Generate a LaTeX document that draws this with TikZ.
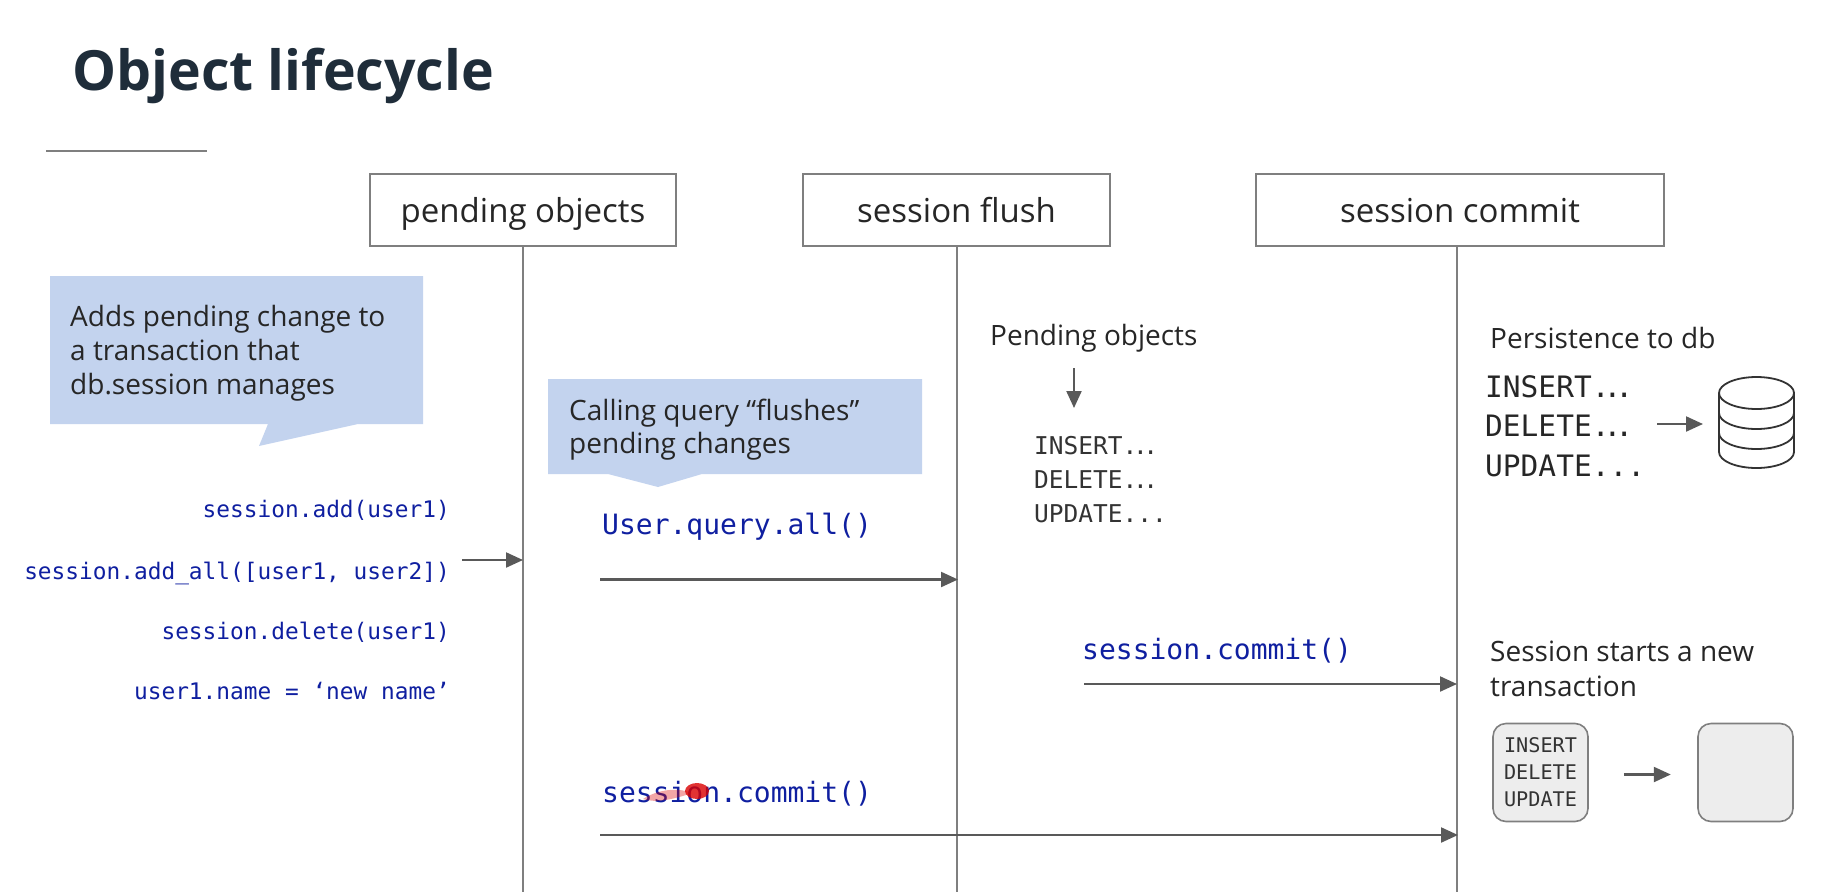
\documentclass[tikz,border=0pt]{standalone}
\usepackage{fontspec}
\setmainfont{Open Sans}
\newfontfamily\codefont{DejaVu Sans Mono}
\newcommand{\fs}[2]{\fontsize{#1}{#2}\selectfont}
\newcommand{\tightdots}[1]{.\kern-#1pt.\kern-#1pt.\kern-#1pt}
\usetikzlibrary{arrows.meta,positioning}
\definecolor{inkdark}{HTML}{1F2D3A}
\definecolor{linegrey}{HTML}{7F7F7F}
\definecolor{arrowgrey}{HTML}{595959}
\definecolor{calloutblue}{HTML}{C3D3EE}
\definecolor{codeblue}{HTML}{0F1FA0}
\definecolor{boxgrey}{HTML}{EDEDED}
\tikzset{
  lifebox/.style={draw=linegrey,line width=1.8pt,fill=white,minimum height=72pt,inner sep=0pt,font=\fs{33}{40},text=black!85,text height=29pt,text depth=5pt},
  lifeline/.style={draw=linegrey,line width=1.6pt},
  flow/.style={draw=arrowgrey,line width=2.2pt,-{Triangle[length=17pt,width=15pt]}},
  callout/.style={fill=calloutblue,draw=none},
  label/.style={anchor=base west,inner sep=0pt,text=black!85,font=\fs{28}{34}},
  blocklabel/.style={anchor=west,inner sep=0pt,text=black!85,align=left},
  codesmall/.style={anchor=base east,inner sep=0pt,text=codeblue,font=\codefont\fs{22.8}{28}},
  codebig/.style={anchor=base west,inner sep=0pt,text=codeblue,font=\codefont\fs{28}{33}},
  sqlsmall/.style={anchor=west,inner sep=0pt,text=black!80,align=left,font=\codefont\fs{24.5}{34}},
  sqlbig/.style={anchor=west,inner sep=0pt,text=black!85,align=left,font=\codefont\fs{29.5}{39.5}},
  trbox/.style={draw=linegrey,line width=1.6pt,fill=boxgrey,rounded corners=13pt,minimum width=95pt,minimum height=98pt,inner sep=0pt},
  dbline/.style={draw=black!80,line width=1.8pt},
}
\begin{document}
\begin{tikzpicture}[x=1pt,y=-1pt]
\useasboundingbox (0,0) rectangle (1834,892);
% title
\node[label,text=inkdark,font=\bfseries\fs{55.4}{64}] (title) at (72,90) {Object lifecycle};
\coordinate (ruleL) at (46,151); \coordinate (ruleR) at (207,151);
\draw[linegrey,line width=1.8pt] (ruleL) -- (ruleR);
% lifelines
\node[lifebox,minimum width=306pt] (pend) at (523,210) {pending objects};
\node[lifebox,minimum width=307pt] (flush) at (956.5,210) {session flush};
\node[lifebox,minimum width=408pt] (commit) at (1460,210) {session commit};
\coordinate (pendB) at (523,892);
\coordinate (flushB) at (957,892);
\coordinate (commitB) at (1457,892);
\draw[lifeline] (pend.south) -- (pendB);
\draw[lifeline] (957,246) -- (flushB);
\draw[lifeline] (1457,246) -- (commitB);
% callouts
\fill[callout] (50,276) -- (423,276) -- (423,424) -- (358,424) -- (259,446) -- (268,424) -- (50,424) -- cycle;
\fill[callout] (548,379) -- (922,379) -- (922,474) -- (702,474) -- (658,487) -- (608,474) -- (548,474) -- cycle;
\node[blocklabel,font=\fs{28}{34}] (note1) at (70,353.5) {Adds pending change to\\a transaction that\\db.session manages};
\node[blocklabel,font=\fs{28}{33}] (note2) at (569,430) {Calling query “flushes”\\pending changes};
% left code
\node[codesmall] (c1) at (450,517) {session.add(user1)};
\node[codesmall] (c2) at (450,579) {session.add\_all([user1, user2])};
\node[codesmall] (c3) at (450,639) {session.delete(user1)};
\node[codesmall] (c4) at (450,699) {user1.name = ‘new name’};
\coordinate (a1s) at (462,560); \coordinate (a1e) at (523,560);
\draw[flow] (a1s) -- (a1e);
% query
\node[codebig] (q) at (602,534) {User.query.all()};
\coordinate (a2s) at (600,579.5); \coordinate (a2e) at (958,579.5);
\draw[flow] (a2s) -- (a2e);
% commit lower
\node[codebig] (sc1) at (602,802) {session.commit()};
\fill[red!85!black,opacity=.35] (643,799) .. controls (660,788) and (680,788) .. (692,793) .. controls (672,800) and (655,803) .. (643,799) -- cycle;
\fill[red!85!black,opacity=.8] (697,791) ellipse (12pt and 8pt);
\coordinate (a3s) at (600,835); \coordinate (a3e) at (1458,835);
\draw[flow] (a3s) -- (a3e);
% commit mid
\node[codebig] (sc2) at (1082,659) {session.commit()};
\coordinate (a4s) at (1084,684); \coordinate (a4e) at (1457,684);
\draw[flow] (a4s) -- (a4e);
% flush column
\node[label] (po) at (990,345) {Pending objects};
\coordinate (a5s) at (1074,368); \coordinate (a5e) at (1074,408);
\draw[flow] (a5s) -- (a5e);
\node[sqlsmall] (sql1) at (1034,480) {INSERT\tightdots{4.4}\\DELETE\tightdots{4.4}\\UPDATE...};
% commit column
\node[label] (pers) at (1490,348) {Persistence to db};
\node[sqlbig] (sql2) at (1485,426) {INSERT\tightdots{6}\\DELETE\tightdots{6}\\UPDATE...};
\coordinate (a6s) at (1657,424); \coordinate (a6e) at (1703,424);
\draw[flow] (a6s) -- (a6e);
% database
\draw[dbline,fill=white] (1719,393) -- (1719,452) arc[start angle=180,end angle=0,x radius=37.5,y radius=16] -- (1794,393);
\draw[dbline] (1719,393) arc[start angle=180,end angle=-180,x radius=37.5,y radius=16];
\draw[dbline] (1719,413) arc[start angle=180,end angle=0,x radius=37.5,y radius=16];
\draw[dbline] (1719,433) arc[start angle=180,end angle=0,x radius=37.5,y radius=16];
% new transaction
\node[blocklabel,font=\fs{28}{35}] (newt) at (1490,669) {Session starts a new\\transaction};
\node[trbox,align=center,text=black!80,font=\codefont\fs{20.2}{27}] (old) at (1540.5,772.5) {INSERT\\DELETE\\UPDATE};
\node[trbox] (fresh) at (1745.5,772.5) {};
\draw[flow] (old.east) ++(35,2) coordinate (a7s) (a7s) -- ++(47,0) coordinate (a7e);
\end{tikzpicture}
\end{document}
